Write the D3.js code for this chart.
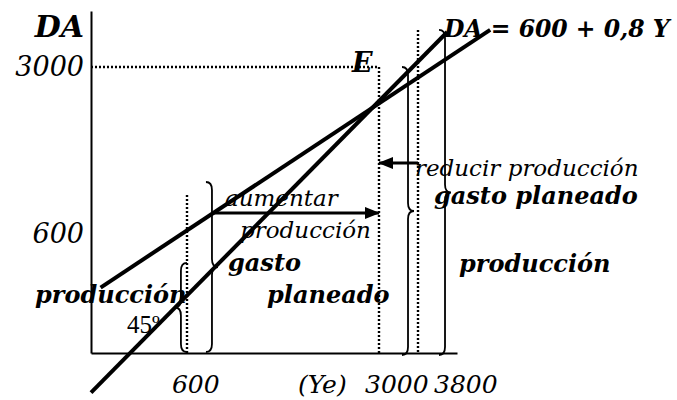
<!DOCTYPE html>
<html>
<head>
<meta charset="utf-8">
<script src="https://cdn.jsdelivr.net/npm/d3@7"></script>
<style>
  body { margin: 0; background: #fff; }
  svg { display: block; }
</style>
</head>
<body>
<div id="chart"></div>
<script>
// Data (in its own schematic units)
const yTickValues = [600, 3000];
const yTickLabels = ["600", "3000"];

const xLabelText = ["600", "(Ye)", "3000", "3800"];
const xLabelAt = [506, 1988, 2825, 4128];
const xLabelBase = -202;

// 45 degree line and aggregate demand line, as [Y, DA]
const line45 = [[0, -200], [4400, 3500]];
const lineDA = [[60, 330], [5280, 3530]];

// dotted guides
const guides = [
  [[0, 3000], [3000, 3000]],
  [[3000, 3000], [3000, 0]],
  [[600, 1160], [600, 0]],
  [[3800, 3529], [3800, 0]]
];

// arrows: from -> to
const arrows = [
  [[912, 902], [3000, 902]],
  [[3800, 1620], [3000, 1620]]
];

// braces: x, top, bottom, side (1 = point right, -1 = point left)
const braceX = [562, 912, 3595, 4354];
const braceTop = [454, 1347, 3000, 3529];
const braceBottom = [5, 5, -10, -10];
const braceSide = [-1, 1, 1, 1];

const boldLabels = ["gasto planeado", "producción", "gasto", "planeado", "producción"];
const boldX = [4128, 4641, 1113, 1600, -350];
const boldY = [1031, 408, 413, 252, 252];

const italicLabels = ["reducir producción", "aumentar", "producción"];
const italicX = [3738, 1075, 1263];
const italicY = [1433, 1002, 580];

const titleY = ["DA", -44, 3429];
const pointE = ["E", 2663, 2928];
const equation = ["DA = 600 + 0,8 Y", 4333, 3429];
const angleNote = ["45º", 225, 101];

const FONT = "'DejaVu Serif', serif";

// Scales (piecewise, the drawing is not to scale)
const xScale = d3.scaleLinear()
  .domain([0, 600, 3000, 3800, 4600])
  .range([91, 187, 379, 418, 457]);
const yScale = d3.scaleLinear()
  .domain([0, 600, 3000, 3800])
  .range([353, 234, 67, 11]);

const svg = d3.select("#chart")
  .append("svg")
  .attr("width", 677)
  .attr("height", 400);

const line = d3.line()
  .x(d => xScale(d[0]))
  .y(d => yScale(d[1]));

// arrow head
svg.append("defs").append("marker")
  .attr("id", "head")
  .attr("markerUnits", "userSpaceOnUse")
  .attr("markerWidth", 15)
  .attr("markerHeight", 12)
  .attr("refX", 14)
  .attr("refY", 6)
  .attr("orient", "auto")
  .append("path")
  .attr("d", "M0,0L15,6L0,12Z")
  .attr("fill", "#000");

// dotted guides
svg.append("g")
  .selectAll("path")
  .data(guides)
  .enter()
  .append("path")
  .attr("d", line)
  .attr("fill", "none")
  .attr("stroke", "#000")
  .attr("stroke-width", 2.4)
  .attr("stroke-dasharray", "2,2");

// axes
svg.append("g")
  .attr("transform", `translate(${xScale(0)},0)`)
  .call(d3.axisLeft(yScale)
    .tickValues(yTickValues)
    .tickFormat((d, i) => yTickLabels[i])
    .tickSize(0)
    .tickSizeOuter(0)
    .tickPadding(7))
  .call(g => g.select(".domain").attr("stroke-width", 2))
  .call(g => g.selectAll("text")
    .attr("font-family", FONT)
    .attr("font-style", "italic")
    .attr("font-size", 27)
    .attr("fill", "#000"));

svg.append("g")
  .attr("transform", `translate(0,${yScale(0)})`)
  .call(d3.axisBottom(xScale).tickValues([]).tickSizeOuter(0))
  .call(g => g.select(".domain").attr("stroke-width", 2));

svg.append("g")
  .selectAll("text")
  .data(xLabelText)
  .enter()
  .append("text")
  .attr("x", (d, i) => xScale(xLabelAt[i]))
  .attr("y", yScale(xLabelBase))
  .attr("font-family", FONT)
  .attr("font-style", "italic")
  .attr("font-size", 25)
  .text(d => d);

// main lines
svg.append("g")
  .selectAll("path")
  .data([line45, lineDA])
  .enter()
  .append("path")
  .attr("d", line)
  .attr("fill", "none")
  .attr("stroke", "#000")
  .attr("stroke-width", 4);

// braces
function bracePath(x, yTop, yBot, side) {
  const w = 6 * side, r = 8, ym = (yTop + yBot) / 2;
  return `M${x - w},${yTop} Q${x},${yTop} ${x},${yTop + r} L${x},${ym - r} ` +
    `Q${x},${ym} ${x + w},${ym} Q${x},${ym} ${x},${ym + r} ` +
    `L${x},${yBot - r} Q${x},${yBot} ${x - w},${yBot}`;
}

svg.append("g")
  .selectAll("path")
  .data(braceX)
  .enter()
  .append("path")
  .attr("d", (d, i) => bracePath(xScale(d), yScale(braceTop[i]), yScale(braceBottom[i]), braceSide[i]))
  .attr("fill", "none")
  .attr("stroke", "#000")
  .attr("stroke-width", 1.8);

// arrows
svg.append("g")
  .selectAll("path")
  .data(arrows)
  .enter()
  .append("path")
  .attr("d", line)
  .attr("stroke", "#000")
  .attr("stroke-width", 3)
  .attr("marker-end", "url(#head)");

// labels
svg.append("g")
  .selectAll("text")
  .data(boldLabels)
  .enter()
  .append("text")
  .attr("x", (d, i) => xScale(boldX[i]))
  .attr("y", (d, i) => yScale(boldY[i]))
  .attr("font-family", FONT)
  .attr("font-style", "italic")
  .attr("font-weight", "bold")
  .attr("font-size", 24)
  .text(d => d);

svg.append("g")
  .selectAll("text")
  .data(italicLabels)
  .enter()
  .append("text")
  .attr("x", (d, i) => xScale(italicX[i]))
  .attr("y", (d, i) => yScale(italicY[i]))
  .attr("font-family", FONT)
  .attr("font-style", "italic")
  .attr("font-size", 23)
  .text(d => d);

svg.append("text")
  .attr("x", xScale(titleY[1]))
  .attr("y", yScale(titleY[2]))
  .attr("text-anchor", "end")
  .attr("font-family", FONT)
  .attr("font-style", "italic")
  .attr("font-weight", "bold")
  .attr("font-size", 30)
  .text(titleY[0]);

svg.append("text")
  .attr("x", xScale(pointE[1]))
  .attr("y", yScale(pointE[2]))
  .attr("font-family", FONT)
  .attr("font-style", "italic")
  .attr("font-weight", "bold")
  .attr("font-size", 27)
  .text(pointE[0]);

svg.append("text")
  .attr("x", xScale(equation[1]))
  .attr("y", yScale(equation[2]))
  .attr("font-family", FONT)
  .attr("font-style", "italic")
  .attr("font-weight", "bold")
  .attr("font-size", 23.5)
  .text(equation[0]);

svg.append("text")
  .attr("x", xScale(angleNote[1]))
  .attr("y", yScale(angleNote[2]))
  .attr("font-family", "'Liberation Serif', serif")
  .attr("font-size", 25)
  .text(angleNote[0]);
</script>
</body>
</html>
